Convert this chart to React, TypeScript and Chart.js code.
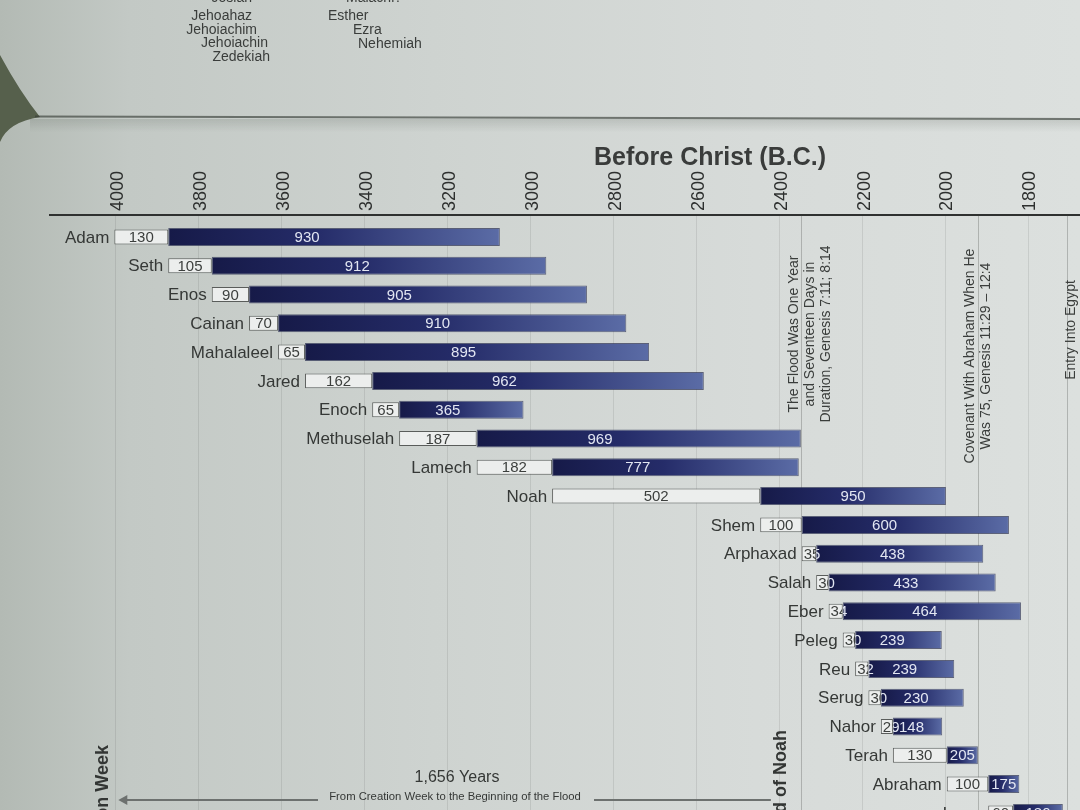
import React, { useEffect, useRef } from 'react';
import { Chart, registerables } from 'chart.js';

Chart.register(...registerables);

const FONT = '"Liberation Sans", Arial, Helvetica, sans-serif';

// ---- data ----
const names = ['Adam', 'Seth', 'Enos', 'Cainan', 'Mahalaleel', 'Jared', 'Enoch', 'Methuselah', 'Lamech', 'Noah', 'Shem', 'Arphaxad', 'Salah', 'Eber', 'Peleg', 'Reu', 'Serug', 'Nahor', 'Terah', 'Abraham', 'Isaac'];
const birthBC = [4004, 3874, 3769, 3679, 3609, 3544, 3382, 3317, 3130, 2948, 2446, 2346, 2311, 2281, 2247, 2217, 2185, 2155, 2126, 1996, 1896];
const ageAtSon = [130, 105, 90, 70, 65, 162, 65, 187, 182, 502, 100, 35, 30, 34, 30, 32, 30, 29, 130, 100, 60];
const lifeYears = [930, 912, 905, 910, 895, 962, 365, 969, 777, 950, 600, 438, 433, 464, 239, 239, 230, 148, 205, 175, 180];
const yearTicks = [4000, 3800, 3600, 3400, 3200, 3000, 2800, 2600, 2400, 2200, 2000, 1800];
const axisTitle = 'Before Christ (B.C.)';
const eventYears = [2348, 1921, 1706];
const eventTexts = [
  ['The Flood Was One Year', 'and Seventeen Days in', 'Duration, Genesis 7:11; 8:14'],
  ['Covenant With Abraham When He', 'Was 75, Genesis 11:29 – 12:4'],
  ['Entry Into Egypt'],
];
const spanTitle = '1,656 Years';
const spanSub = 'From Creation Week to the Beginning of the Flood';
const sideLabels = ['Creation Week', 'Flood of Noah'];
const sideLabelYears = [4031, 2396];
const prevPageLeft = ['Josiah', 'Jehoahaz', 'Jehoiachim', 'Jehoiachin', 'Zedekiah'];
const prevPageRight = ['Malachi?', 'Esther', 'Ezra', 'Nehemiah'];

// ---- style helpers ----
const eventTextOffsetX = [9, 0, 4];
const eventTextCenterY = [334, 356, 330];

const pagePlugin = {
  id: 'pageDecor',
  beforeDraw(chart: any) {
    const ctx = chart.ctx;
    ctx.save();
    // dark background behind pages at top-left
    ctx.fillStyle = '#56604c';
    ctx.beginPath();
    ctx.moveTo(0, 55);
    ctx.quadraticCurveTo(20, 92, 40, 117);
    ctx.quadraticCurveTo(8, 122, 0, 142);
    ctx.closePath();
    ctx.fill();
    // page gap shadow
    ctx.strokeStyle = 'rgba(55,62,55,0.65)';
    ctx.lineWidth = 2;
    ctx.beginPath();
    ctx.moveTo(35, 116.5);
    ctx.lineTo(1080, 119);
    ctx.stroke();
    const g = ctx.createLinearGradient(0, 119, 0, 132);
    g.addColorStop(0, 'rgba(80,90,80,0.18)');
    g.addColorStop(1, 'rgba(80,90,80,0)');
    ctx.fillStyle = g;
    ctx.fillRect(30, 119, 1050, 13);
    // previous page text
    ctx.font = `14px ${FONT}`;
    ctx.fillStyle = '#3a3d3b';
    ctx.textBaseline = 'middle';
    ctx.textAlign = 'right';
    const leftX = [252, 252, 257, 268, 270];
    const leftY = [-2, 16, 30, 43, 57];
    prevPageLeft.forEach((t, i) => ctx.fillText(t, leftX[i], leftY[i]));
    ctx.textAlign = 'left';
    const rightX = [346, 328, 353, 358];
    const rightY = [-2, 16, 30, 44];
    prevPageRight.forEach((t, i) => ctx.fillText(t, rightX[i], rightY[i]));
    ctx.restore();
  },
  beforeDatasetsDraw(chart: any) {
    const { ctx, chartArea, scales } = chart;
    const xs = scales.x;
    ctx.save();
    ctx.strokeStyle = 'rgba(60,64,62,0.28)';
    ctx.lineWidth = 1;
    eventYears.forEach((yr) => {
      const px = Math.round(xs.getPixelForValue(yr)) + 0.5;
      ctx.beginPath();
      ctx.moveTo(px, chartArea.top);
      ctx.lineTo(px, chartArea.bottom);
      ctx.stroke();
    });
    // event texts
    ctx.font = `14px ${FONT}`;
    ctx.fillStyle = '#3a3d3b';
    ctx.textAlign = 'center';
    ctx.textBaseline = 'middle';
    eventYears.forEach((yr, k) => {
      const px = xs.getPixelForValue(yr) + eventTextOffsetX[k];
      const lines = eventTexts[k];
      const lh = 16;
      ctx.save();
      ctx.translate(px, eventTextCenterY[k]);
      ctx.rotate(-Math.PI / 2);
      lines.forEach((ln, j) => ctx.fillText(ln, 0, (j - (lines.length - 1) / 2) * lh));
      ctx.restore();
    });
    ctx.restore();
  },
  afterDatasetsDraw(chart: any) {
    const { ctx, scales } = chart;
    const xs = scales.x;
    const ys = scales.y;
    ctx.save();
    ctx.textBaseline = 'middle';
    names.forEach((name, i) => {
      const yc = ys.getPixelForValue(i);
      const birth = birthBC[i];
      const son = birth - ageAtSon[i];
      const death = birth - lifeYears[i];
      const x0 = xs.getPixelForValue(birth);
      const x1 = xs.getPixelForValue(son);
      const x2 = xs.getPixelForValue(death);
      // name
      ctx.font = `17px ${FONT}`;
      ctx.fillStyle = '#353836';
      ctx.textAlign = 'right';
      ctx.fillText(name, x0 - 5, yc + 1);
      // white box label
      ctx.font = `15px ${FONT}`;
      const t1 = String(ageAtSon[i]);
      const w1 = ctx.measureText(t1).width;
      let tx: number;
      if (w1 + 6 <= x1 - x0) {
        tx = (x0 + x1) / 2;
        ctx.textAlign = 'center';
      } else {
        tx = x0 + 2;
        ctx.textAlign = 'left';
      }
      ctx.save();
      ctx.beginPath();
      ctx.rect(x0, yc - 10, x1 - x0, 20);
      ctx.clip();
      ctx.fillStyle = '#3c3f3d';
      ctx.fillText(t1, tx, yc + 1);
      ctx.restore();
      ctx.save();
      ctx.beginPath();
      ctx.rect(x1, yc - 10, x2 - x1, 20);
      ctx.clip();
      ctx.fillStyle = '#e2e6f2';
      ctx.fillText(t1, tx, yc + 1);
      ctx.restore();
      // lifespan label
      const t2 = String(lifeYears[i]);
      const w2 = ctx.measureText(t2).width;
      let cx = (x0 + x2) / 2;
      if (cx - w2 / 2 < x1 + 3) cx = (x1 + x2) / 2;
      ctx.textAlign = 'center';
      ctx.fillStyle = '#e2e6f2';
      ctx.fillText(t2, cx, yc + 1);
    });
    ctx.restore();
  },
  afterDraw(chart: any) {
    const { ctx, scales } = chart;
    const xs = scales.x;
    ctx.save();
    // axis title
    ctx.font = `bold 25px ${FONT}`;
    ctx.fillStyle = '#3a3c3b';
    ctx.textAlign = 'center';
    ctx.textBaseline = 'middle';
    ctx.fillText(axisTitle, 710, 158);
    // bottom span annotation
    ctx.font = `16px ${FONT}`;
    ctx.fillStyle = '#353836';
    ctx.fillText(spanTitle, 457, 778);
    ctx.font = `11.3px ${FONT}`;
    ctx.fillText(spanSub, 455, 797);
    // arrow
    const arrowY = 800;
    const xStart = xs.getPixelForValue(4004) + 4;
    const xEnd = xs.getPixelForValue(2348) - 30;
    ctx.strokeStyle = '#6d716f';
    ctx.fillStyle = '#6d716f';
    ctx.lineWidth = 2;
    ctx.beginPath();
    ctx.moveTo(xStart + 6, arrowY);
    ctx.lineTo(318, arrowY);
    ctx.moveTo(594, arrowY);
    ctx.lineTo(xEnd, arrowY);
    ctx.stroke();
    ctx.beginPath();
    ctx.moveTo(xStart, arrowY);
    ctx.lineTo(xStart + 9, arrowY - 5);
    ctx.lineTo(xStart + 9, arrowY + 5);
    ctx.closePath();
    ctx.fill();
    // rotated side labels at bottom
    ctx.font = `bold 18px ${FONT}`;
    ctx.fillStyle = '#333634';
    ctx.textAlign = 'right';
    ctx.textBaseline = 'middle';
    const tops = [745, 730];
    sideLabels.forEach((t, k) => {
      ctx.save();
      ctx.translate(xs.getPixelForValue(sideLabelYears[k]), tops[k]);
      ctx.rotate(-Math.PI / 2);
      ctx.fillText(t, 0, 0);
      ctx.restore();
    });
    ctx.restore();
  },
};

function blueGradient(c: any) {
  const chart = c.chart;
  const xs = chart.scales && chart.scales.x;
  if (c.type !== 'data' || !xs || !c.raw) return '#262d68';
  const a = xs.getPixelForValue(c.raw.x[0]);
  const b = xs.getPixelForValue(c.raw.x[1]);
  if (!isFinite(a) || !isFinite(b) || a === b) return '#262d68';
  const g = chart.ctx.createLinearGradient(a, 0, b, 0);
  g.addColorStop(0, '#161a48');
  g.addColorStop(0.45, '#252c69');
  g.addColorStop(1, '#5b6ca6');
  return g;
}

export default function App() {
  const ref = useRef<HTMLCanvasElement>(null);

  useEffect(() => {
    document.body.style.margin = '0';
    const canvas = ref.current;
    if (!canvas) return;
    const lifeBars = names.map((_, i) => ({ x: [birthBC[i] - ageAtSon[i], birthBC[i] - lifeYears[i]], y: i }));
    const sonBars = names.map((_, i) => ({ x: [birthBC[i], birthBC[i] - ageAtSon[i]], y: i }));
    const chart = new Chart(canvas, {
      type: 'bar',
      data: {
        datasets: [
          {
            label: 'Years until son',
            data: sonBars as any,
            backgroundColor: '#eceeed',
            borderColor: '#5a5d5b',
            borderWidth: 1,
            borderSkipped: false,
            grouped: false,
            categoryPercentage: 1,
            barPercentage: 0.52,
          },
          {
            label: 'Lifespan',
            data: lifeBars as any,
            backgroundColor: blueGradient as any,
            borderColor: 'rgba(40,46,80,0.7)',
            borderWidth: 1,
            borderSkipped: false,
            grouped: false,
            categoryPercentage: 1,
            barPercentage: 0.625,
          },
        ],
      },
      options: {
        indexAxis: 'y',
        responsive: false,
        animation: false,
        events: [],
        layout: { padding: { top: 140, left: 50, right: 0, bottom: 0 } },
        plugins: {
          legend: { display: false },
          tooltip: { enabled: false },
          title: { display: false },
        },
        scales: {
          x: {
            type: 'linear',
            position: 'top',
            reverse: true,
            min: 1674.6,
            max: 4159.2,
            afterBuildTicks: (s: any) => {
              s.ticks = yearTicks.map((v) => ({ value: v }));
            },
            afterFit: (s: any) => {
              s.height = 75;
              s.paddingLeft = 0;
              s.paddingRight = 0;
            },
            ticks: {
              autoSkip: false,
              minRotation: 90,
              maxRotation: 90,
              padding: 4,
              labelOffset: 24,
              color: '#2e302f',
              font: { family: FONT, size: 18 },
              callback: (v: any) => String(v),
            },
            grid: { color: 'rgba(40,44,42,0.10)', lineWidth: 1, drawTicks: false },
            border: { display: true, color: '#2f3130', width: 2 },
          },
          y: {
            type: 'linear',
            reverse: true,
            offset: false,
            grace: 0,
            min: -0.76,
            max: 19.9,
            display: false,
            grid: { offset: false },
            afterBuildTicks: (s: any) => {
              s.ticks = names.map((_, i) => ({ value: i }));
            },
          },
        },
      },
      plugins: [pagePlugin],
    } as any);
    return () => chart.destroy();
  }, []);

  return (
    <div
      style={{
        position: 'relative',
        width: 1080,
        height: 810,
        overflow: 'hidden',
        background:
          'linear-gradient(90deg, #b3bab4 0%, #c3c9c5 12%, #ced3d0 40%, #d7dbd9 70%, #dce0de 100%)',
      }}
    >
      <canvas ref={ref} width={1080} height={810} style={{ display: 'block' }} />
    </div>
  );
}
